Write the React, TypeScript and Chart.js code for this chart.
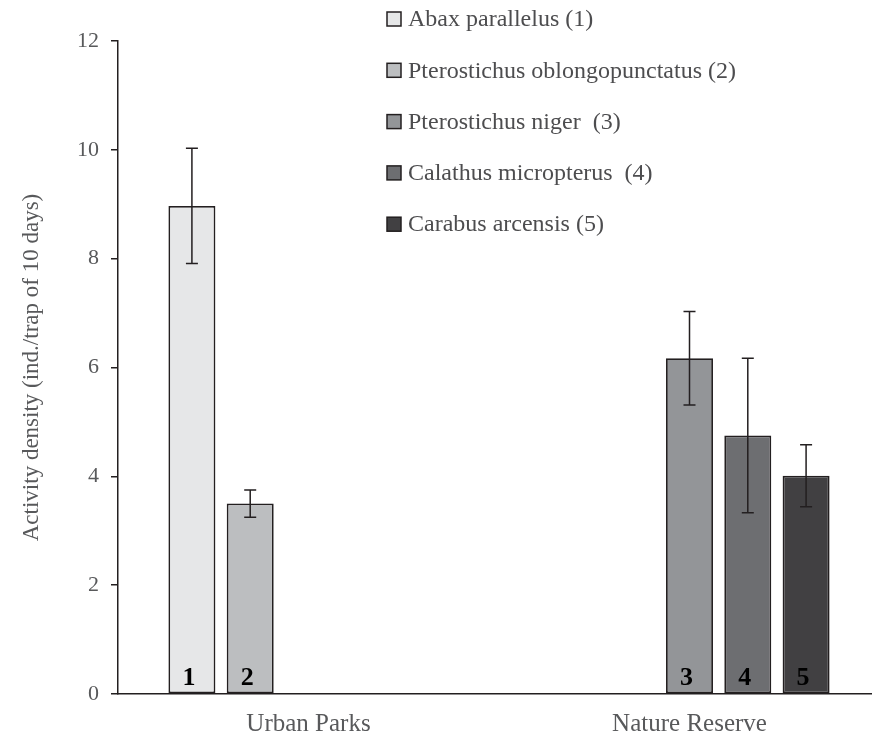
import React, { useEffect, useRef } from "react";
import { Chart, registerables } from "chart.js";

Chart.register(...registerables);

// Sampling sites (x categories)
const sites = ["Urban Parks", "Nature Reserve"];

// Species shown in the legend, with the number printed at the foot of each bar
const speciesNames = [
  "Abax parallelus (1)",
  "Pterostichus oblongopunctatus (2)",
  "Pterostichus niger  (3)",
  "Calathus micropterus  (4)",
  "Carabus arcensis (5)",
];
const barNumbers = ["1", "2", "3", "4", "5"];

// Mean activity density per site (ind./trap of 10 days); null = species not dominant there
const abaxMean = [8.97, null];
const oblongopunctatusMean = [3.5, null];
const nigerMean = [null, 6.17];
const micropterusMean = [null, 4.75];
const arcensisMean = [null, 4.01];

// Error half-widths for the same bars
const abaxErr = [1.06, null];
const oblongopunctatusErr = [0.25, null];
const nigerErr = [null, 0.86];
const micropterusErr = [null, 1.42];
const arcensisErr = [null, 0.57];

const yTicks = [0, 2, 4, 6, 8, 10, 12];

const meanSeries = [abaxMean, oblongopunctatusMean, nigerMean, micropterusMean, arcensisMean];
const errSeries = [abaxErr, oblongopunctatusErr, nigerErr, micropterusErr, arcensisErr];
const fills = ["#e6e7e8", "#bcbec0", "#939598", "#6d6e71", "#414042"];

const INK = "#231f20";
const TEXT_GREY = "#58595b";
const SERIF = "'Liberation Serif', 'Times New Roman', serif";

// The plot runs a little past the right edge of the visible frame
const CANVAS_W = 880;
const FRAME_W = 872;
const FRAME_H = 736;

const decorations = {
  id: "decorations",
  afterDatasetsDraw(chart: any) {
    const ctx = chart.ctx as CanvasRenderingContext2D;
    const y = chart.scales.y;
    chart.data.datasets.forEach((ds: any, di: number) => {
      const meta = chart.getDatasetMeta(di);
      meta.data.forEach((bar: any, i: number) => {
        const v = ds.data[i];
        if (v == null) return;
        const e = errSeries[di][i] as number;
        const top = y.getPixelForValue(v + e);
        const bot = y.getPixelForValue(v - e);
        const cap = 6;
        ctx.save();
        ctx.strokeStyle = INK;
        ctx.lineWidth = 1.5;
        ctx.beginPath();
        ctx.moveTo(bar.x, top);
        ctx.lineTo(bar.x, bot);
        ctx.moveTo(bar.x - cap, top);
        ctx.lineTo(bar.x + cap, top);
        ctx.moveTo(bar.x - cap, bot);
        ctx.lineTo(bar.x + cap, bot);
        ctx.stroke();

        ctx.fillStyle = "#000";
        ctx.font = `bold 26px ${SERIF}`;
        ctx.textAlign = "center";
        ctx.textBaseline = "alphabetic";
        ctx.fillText(barNumbers[di], bar.x - 3, bar.base - 8);
        ctx.restore();
      });
    });
  },
  afterDraw(chart: any) {
    const ctx = chart.ctx as CanvasRenderingContext2D;
    const boxX = 387;
    const boxSize = 14;
    const textX = 408;
    const firstRow = 19;
    const rowGap = 51.3;
    ctx.save();
    speciesNames.forEach((name, i) => {
      const cy = firstRow + i * rowGap;
      ctx.fillStyle = fills[i];
      ctx.strokeStyle = INK;
      ctx.lineWidth = 1.5;
      ctx.fillRect(boxX, cy - boxSize / 2, boxSize, boxSize);
      ctx.strokeRect(boxX, cy - boxSize / 2, boxSize, boxSize);
      ctx.fillStyle = "#4d4d4f";
      ctx.font = `24px ${SERIF}`;
      ctx.textAlign = "left";
      ctx.textBaseline = "middle";
      ctx.fillText(name, textX, cy + 1);
    });
    ctx.restore();
  },
};

export default function App() {
  const canvasRef = useRef<HTMLCanvasElement | null>(null);

  useEffect(() => {
    const canvas = canvasRef.current;
    if (!canvas) return;
    const chart = new Chart(canvas, {
      type: "bar",
      data: {
        labels: sites,
        datasets: meanSeries.map((data, i) => ({
          label: speciesNames[i],
          data,
          backgroundColor: fills[i],
          borderColor: INK,
          borderWidth: 1.8,
          borderSkipped: false,
          categoryPercentage: 0.765,
          barPercentage: 0.806,
        })),
      },
      options: {
        responsive: false,
        devicePixelRatio: 1,
        animation: false,
        layout: { padding: { top: 41, right: 0, bottom: 0, left: 0 } },
        plugins: {
          legend: { display: false },
          tooltip: { enabled: false },
        },
        scales: {
          x: {
            grid: { display: false, drawTicks: false },
            border: { display: true, color: INK, width: 1.5 },
            ticks: {
              color: TEXT_GREY,
              padding: 15,
              font: { family: SERIF, size: 25 },
            },
            afterFit: (scale: any) => {
              scale.height = 42;
            },
          },
          y: {
            min: 0,
            max: 12,
            afterBuildTicks: (scale: any) => {
              scale.ticks = yTicks.map((value) => ({ value }));
            },
            grid: {
              display: true,
              drawOnChartArea: false,
              drawTicks: true,
              tickLength: 7,
              color: INK,
              lineWidth: 1.5,
            },
            border: { display: true, color: INK, width: 1.5 },
            ticks: {
              color: TEXT_GREY,
              padding: 12,
              font: { family: SERIF, size: 22 },
            },
            title: {
              display: true,
              text: "Activity density (ind./trap of 10 days)",
              color: TEXT_GREY,
              font: { family: SERIF, size: 23 },
              padding: { top: 18, bottom: 0 },
            },
            afterFit: (scale: any) => {
              scale.width = 118;
            },
          },
        },
      },
      plugins: [decorations],
    });
    return () => chart.destroy();
  }, []);

  return (
    <div
      style={{
        position: "absolute",
        left: 0,
        top: 0,
        width: FRAME_W,
        height: FRAME_H,
        overflow: "hidden",
        background: "#fff",
      }}
    >
      <canvas ref={canvasRef} width={CANVAS_W} height={FRAME_H} style={{ display: "block" }} />
    </div>
  );
}
